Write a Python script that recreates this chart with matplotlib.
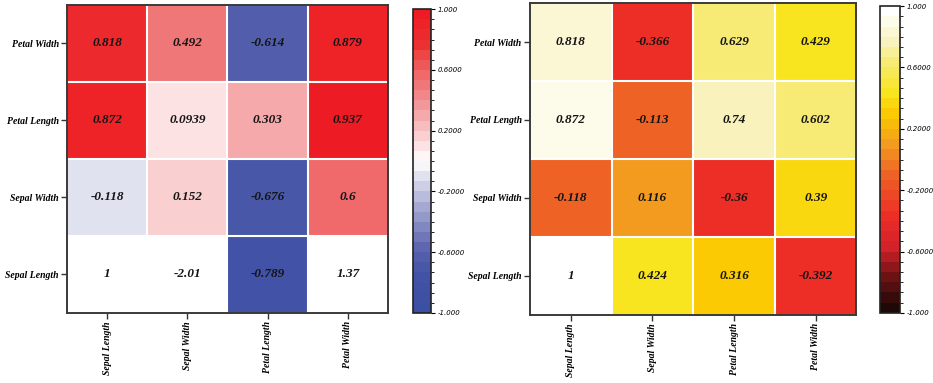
import numpy as np
import matplotlib
matplotlib.use("Agg")
import matplotlib.pyplot as plt
from matplotlib.colors import LinearSegmentedColormap, BoundaryNorm

# labels
x_labels = ["Sepal Length", "Sepal Width", "Petal Length", "Petal Width"]
y_labels = ["Sepal Length", "Sepal Width", "Petal Length", "Petal Width"]  # bottom -> top

# left matrix, rows bottom -> top
left_vals = [
    [1, -2.01, -0.789, 1.37],
    [-0.118, 0.152, -0.676, 0.6],
    [0.872, 0.0939, 0.303, 0.937],
    [0.818, 0.492, -0.614, 0.879],
]
# right matrix, rows bottom -> top
right_vals = [
    [1, 0.424, 0.316, -0.392],
    [-0.118, 0.116, -0.36, 0.39],
    [0.872, -0.113, 0.74, 0.602],
    [0.818, -0.366, 0.629, 0.429],
]

cbar_ticks = [-1.0, -0.6, -0.2, 0.2, 0.6, 1.0]
cbar_ticklabels = ["-1.000", "-0.6000", "-0.2000", "0.2000", "0.6000", "1.000"]

bwr = LinearSegmentedColormap.from_list("bwr_c", [
    (0.0, "#3b4fa3"), (0.12, "#4353a6"), (0.2, "#5a63ae"), (0.35, "#a8acd3"),
    (0.5, "#ffffff"), (0.65, "#f5acae"), (0.75, "#f07a7b"), (0.8, "#f06868"),
    (0.9, "#ec2f30"), (1.0, "#ed1c24")])
hot = LinearSegmentedColormap.from_list("hot_c", [
    (0.0, "#1e0808"), (0.12, "#7a1414"), (0.2, "#d1212a"), (0.3, "#ec2a27"),
    (0.45, "#ee6325"), (0.55, "#f39a1f"), (0.65, "#fcc800"), (0.72, "#f9e51c"),
    (0.8, "#f6e95a"), (0.9, "#f9f2c0"), (1.0, "#ffffff")])

levels = np.linspace(-1, 1, 31)

fig = plt.figure(figsize=(9.33, 3.83), dpi=100)
fnt = dict(family="Liberation Serif", style="italic", weight="bold")

def draw(ax_pos, cb_pos, vals, cmap):
    ax = fig.add_axes(ax_pos)
    data = np.array(vals, dtype=float)
    cmap_d = cmap.resampled(30)
    cmap_d.set_over("white")
    cmap_d.set_under("white")
    norm = BoundaryNorm(levels, 30)
    mesh = ax.pcolormesh(data, cmap=cmap_d, norm=norm, linewidth=0)
    # white separators between cells
    for k in range(1, 4):
        ax.axhline(k, color="white", lw=1.5)
        ax.axvline(k, color="white", lw=1.5)
    for i in range(data.shape[0]):
        for j in range(data.shape[1]):
            ax.text(j + 0.5, i + 0.5, f"{vals[i][j]:g}", ha="center", va="center",
                    fontsize=9.5, color="#151515", **fnt)
    ax.set_xticks(np.arange(4) + 0.5)
    ax.set_xticklabels(x_labels, rotation=90, fontsize=7, **fnt)
    ax.set_yticks(np.arange(4) + 0.5)
    ax.set_yticklabels(y_labels, fontsize=7, **fnt)
    ax.tick_params(length=4, width=1, color="#333333", pad=2)
    for s in ax.spines.values():
        s.set_color("#3a3a3a")
        s.set_linewidth(1.4)
    cax = fig.add_axes(cb_pos)
    cb = fig.colorbar(mesh, cax=cax, ticks=cbar_ticks, extend="neither")
    cb.ax.set_yticklabels(cbar_ticklabels, fontsize=5, style="italic")
    cb.ax.tick_params(length=3, width=0.8, pad=2)
    cb.outline.set_linewidth(1.2)
    cb.outline.set_edgecolor("#222222")
    return ax

draw([0.0718, 0.183, 0.344, 0.804], [0.4427, 0.183, 0.0193, 0.793], left_vals, bwr)
draw([0.568, 0.178, 0.350, 0.814], [0.943, 0.183, 0.0214, 0.801], right_vals, hot)

fig.savefig("out.png", dpi=100)
